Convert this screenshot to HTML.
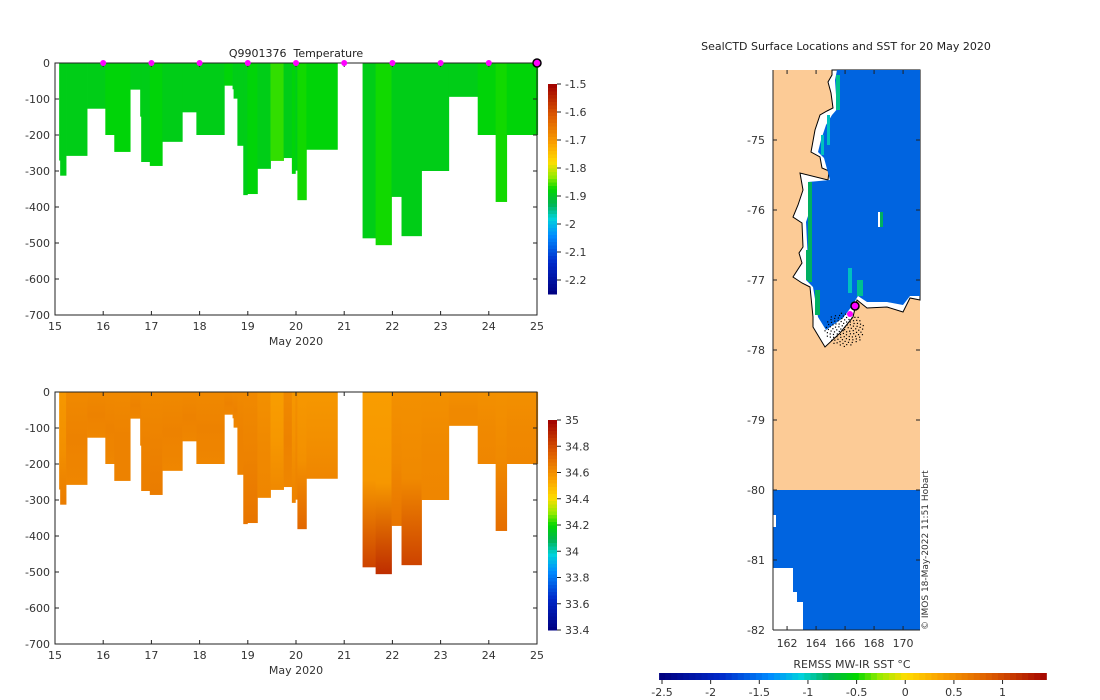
<!DOCTYPE html>
<html><head><meta charset="utf-8"><style>
body{margin:0;background:#fff;}
svg{display:block;font-family:"DejaVu Sans","Liberation Sans",sans-serif;}
</style></head><body>
<svg id="s" width="1100" height="700" viewBox="0 0 1100 700">
<text x="296" y="57" font-size="11" text-anchor="middle" fill="#222">Q9901376&#160; Temperature</text>
<text x="846" y="50" font-size="11" text-anchor="middle" fill="#222">SealCTD Surface Locations and SST for 20 May 2020</text>
<g id="topPanel"></g>
<g id="botPanel"></g>
<g id="map"></g>
</svg>
<script>
const NS="http://www.w3.org/2000/svg";
const colStart=[15.086,15.107,15.229,15.665,16.044,16.230,16.559,16.767,16.788,16.967,17.225,17.640,17.933,18.512,18.684,18.705,18.784,18.906,18.991,19.199,19.471,19.742,19.914,19.986,20.029,20.215,21.381,21.652,21.981,22.189,22.604,23.169,23.770,24.142,24.371];
const colEnd=[15.107,15.229,15.665,16.044,16.230,16.559,16.767,16.788,16.967,17.225,17.640,17.933,18.512,18.684,18.705,18.784,18.906,18.991,19.199,19.471,19.742,19.914,19.986,20.029,20.215,20.858,21.652,21.981,22.189,22.604,23.169,23.770,24.142,24.371,25.014];
const colDepth=[271,313,258,127,200,247,74,149,275,286,219,137,200,63,73,99,230,367,364,294,272,264,308,299,381,241,487,506,372,481,300,94,200,386,200];
const colTemp=[-1.89,-1.89,-1.89,-1.89,-1.88,-1.88,-1.89,-1.89,-1.89,-1.88,-1.89,-1.89,-1.89,-1.88,-1.89,-1.89,-1.89,-1.89,-1.88,-1.89,-1.86,-1.89,-1.88,-1.89,-1.87,-1.88,-1.89,-1.87,-1.89,-1.89,-1.89,-1.89,-1.88,-1.87,-1.88];
const colSalTop=[34.58,34.58,34.62,34.62,34.62,34.62,34.62,34.62,34.62,34.62,34.62,34.62,34.62,34.62,34.62,34.62,34.62,34.62,34.62,34.60,34.56,34.62,34.58,34.60,34.58,34.58,34.56,34.56,34.60,34.60,34.60,34.60,34.60,34.60,34.60];
const colSalBot=[34.64,34.66,34.63,34.63,34.63,34.64,34.63,34.63,34.65,34.66,34.63,34.63,34.63,34.63,34.63,34.63,34.64,34.68,34.68,34.63,34.62,34.63,34.64,34.64,34.72,34.63,34.82,34.88,34.68,34.82,34.63,34.62,34.63,34.70,34.63];
const markerDays=[16,17,18,19,20,21,22,23,24];
const xTicks=[15,16,17,18,19,20,21,22,23,24,25];
const yTicks=[0,-100,-200,-300,-400,-500,-600,-700];
const tempTicks=[-1.5,-1.6,-1.7,-1.8,-1.9,-2,-2.1,-2.2];
const salTicks=[35,34.8,34.6,34.4,34.2,34,33.8,33.6,33.4];
const sstTicks=[-2.5,-2,-1.5,-1,-0.5,0,0.5,1];
const latTicks=[-75,-76,-77,-78,-79,-80,-81,-82];
const lonTicks=[162,164,166,168,170];

const stops=[[0,[0,0,128]],[0.15,[0,40,200]],[0.28,[0,140,255]],[0.36,[0,210,220]],[0.43,[0,180,80]],[0.5,[0,215,0]],[0.56,[150,235,0]],[0.63,[255,220,0]],[0.72,[250,160,0]],[0.85,[220,90,0]],[1,[160,0,0]]];
function cmap(f){f=Math.max(0,Math.min(1,f));for(let i=1;i<stops.length;i++){if(f<=stops[i][0]){const a=stops[i-1],b=stops[i],t=(f-a[0])/(b[0]-a[0]);return `rgb(${a[1].map((v,k)=>Math.round(v+(b[1][k]-v)*t)).join(',')})`;}}return 'rgb(160,0,0)';}
function el(p,tag,at){const e=document.createElementNS(NS,tag);for(const k in at)e.setAttribute(k,at[k]);p.appendChild(e);return e;}
function txt(p,x,y,s,anchor,size){const t=el(p,'text',{x:x,y:y,'font-size':size||11,'text-anchor':anchor||'start',fill:'#333'});t.textContent=s;return t;}

function panel(g,topY,vals,vmin,vmax,ticks,isSal){
  const X0=55,X1=537,Y0=topY,Y1=topY+252;
  const xs=d=>X0+(d-15)*(X1-X0)/10;
  const ys=m=>Y0+m*(Y1-Y0)/700;
  const defs=el(g,'defs',{});
  for(let i=0;i<colStart.length;i++){
    let fill;
    if(isSal){
      const id='sg'+i;const lg=el(defs,'linearGradient',{id:id,x1:0,y1:0,x2:0,y2:1});
      el(lg,'stop',{offset:'0','stop-color':cmap((colSalTop[i]-vmin)/(vmax-vmin))});
      el(lg,'stop',{offset:'0.5','stop-color':cmap((colSalTop[i]+0.02-vmin)/(vmax-vmin))});
      el(lg,'stop',{offset:'1','stop-color':cmap((colSalBot[i]-vmin)/(vmax-vmin))});
      fill='url(#'+id+')';
    } else fill=cmap((vals[i]-vmin)/(vmax-vmin));
    const r=el(g,'rect',{x:xs(colStart[i]),y:Y0,width:xs(colEnd[i])-xs(colStart[i])+0.4,height:ys(colDepth[i])-Y0,fill:fill});
    
    
  }
  el(g,'rect',{x:X0,y:Y0,width:X1-X0,height:Y1-Y0,fill:'none',stroke:'#222','stroke-width':1});
  xTicks.forEach(d=>{const x=xs(d);el(g,'line',{x1:x,x2:x,y1:Y1,y2:Y1-4,stroke:'#222'});el(g,'line',{x1:x,x2:x,y1:Y0,y2:Y0+4,stroke:'#222'});txt(g,x,Y1+15,String(d),'middle');});
  yTicks.forEach(v=>{const y=ys(-v);el(g,'line',{x1:X0,x2:X0+4,y1:y,y2:y,stroke:'#222'});el(g,'line',{x1:X1,x2:X1-4,y1:y,y2:y,stroke:'#222'});txt(g,X0-5,y+4,String(v),'end');});
  const xl=txt(g,296,Y1+30,'May 2020','middle');
  
  const cb=el(g,'g',{});
  
  
  const cT=isSal?topY+28:topY+21, cB=isSal?topY+238:topY+231;
  const cbMin=isSal?33.4:-2.25, cbMax=isSal?35:-1.5;
  const N=60;for(let k=0;k<N;k++){const v=cbMin+(cbMax-cbMin)*(k+0.5)/N;el(cb,'rect',{x:548,y:cB-(k+1)*(cB-cT)/N,width:9,height:(cB-cT)/N+0.5,fill:cmap((v-vmin)/(vmax-vmin))});}
  ticks.forEach(v=>{const y=cB-(v-cbMin)/(cbMax-cbMin)*(cB-cT);el(cb,'line',{x1:557,x2:561,y1:y,y2:y,stroke:'#222'});txt(cb,565,y+4,String(v),'start');});
}
const topG=document.getElementById('topPanel'),botG=document.getElementById('botPanel');
panel(topG,63,colTemp,-2.25,-1.5,tempTicks,false);
panel(botG,392,colSalTop,33.4,35,salTicks,true);
markerDays.forEach(d=>{const c=el(topG,'circle',{cx:55+(d-15)*48.2,cy:63,r:3,fill:'#ff00ff'});});
{const c=el(topG,'circle',{cx:537,cy:63,r:4,fill:'#ff00ff',stroke:'#000','stroke-width':1.5});}

// map
const m=document.getElementById('map');
const MX0=773,MX1=920,MY0=70,MY1=630;
const lonX=l=>MX0+(l-161.03)*14.5, latY=a=>MY0+(-74-a)*70;
el(m,'rect',{x:MX0,y:MY0,width:MX1-MX0,height:MY1-MY0,fill:'#fccb96'});
const coast="832,70 832,75 828,82 831,93 833,108 827,111 820,115 815,130 811,152 820,157 822,168 829,171 828,180 800,173 803,190 798,205 793,217 802,223 803,247 799,253 802,263 793,277 802,283 810,287 813,317 813,327 825,347 840,333 853,317 857,300 867,308 887,307 903,312 910,298 920,300 920,70";
el(m,'polygon',{points:coast,fill:'#fff',stroke:'#000','stroke-width':1});
el(m,'polygon',{points:"837,70 835,80 836,95 838,108 832,115 826,125 821,140 818,152 824,158 830,180 808,182 810,210 806,222 808,262 806,280 813,287 818,317 826,330 843,318 852,306 858,296 867,302 887,302 903,305 910,296 920,296 920,70",fill:'#0064e0'});
[[808,182,4,100,'#00b060'],[806,250,4,30,'#00b060'],[815,290,5,25,'#00b060'],[836,75,4,35,'#00c090'],[827,115,3,30,'#00c0c0'],[821,135,3,20,'#00c0c0'],[848,268,4,25,'#00c0c0'],[857,280,6,16,'#00c090'],[880,212,3,15,'#00b060'],[878,212,2,15,'#fff']].forEach(r=>el(m,'rect',{x:r[0],y:r[1],width:r[2],height:r[3],fill:r[4]}));
el(m,'rect',{x:MX0,y:490,width:MX1-MX0,height:140,fill:'#0064e0'});
el(m,'polygon',{points:"773,568 793,568 793,592 797,592 797,602 803,602 803,630 773,630",fill:'#fff'});
el(m,'rect',{x:773,y:515,width:3,height:12,fill:'#fff'});
const dots=el(m,'g',{});
for(let i=0;i<110;i++){const a=i*2.39996,r=Math.sqrt(i/110);el(dots,'rect',{x:844+Math.cos(a)*r*20,y:329+Math.sin(a)*r*17,width:1.2,height:1.2,fill:'#000'});}
el(m,'circle',{cx:850,cy:314,r:3,fill:'#ff00ff'});
el(m,'circle',{cx:855,cy:306,r:4,fill:'#ff00ff',stroke:'#000','stroke-width':1.5});
el(m,'line',{x1:MX0,x2:MX0,y1:MY0,y2:MY1,stroke:'#222'});
el(m,'line',{x1:MX0,x2:MX1,y1:MY1,y2:MY1,stroke:'#222'});
latTicks.forEach(a=>{const y=latY(a);el(m,'line',{x1:MX0,x2:MX0+4,y1:y,y2:y,stroke:'#222'});el(m,'line',{x1:MX1,x2:MX1-4,y1:y,y2:y,stroke:'#222'});txt(m,MX0-8,y+4,String(a),'end');});
lonTicks.forEach(l=>{const x=lonX(l);el(m,'line',{x1:x,x2:x,y1:MY1,y2:MY1-4,stroke:'#222'});el(m,'line',{x1:x,x2:x,y1:MY0,y2:MY0+4,stroke:'#222'});txt(m,x,MY1+17,String(l),'middle');});
{const t=txt(m,0,0,'© IMOS 18-May-2022 11:51 Hobart','start',9);t.setAttribute('transform','translate(928,630) rotate(-90)');}
{const t=txt(m,852,668,'REMSS MW-IR SST °C','middle',11);}
const sb=el(m,'g',{});
const sx=v=>662+(v+2.5)*97.3;
const SN=64;for(let k=0;k<SN;k++){const v0=-2.53+k*(1.45+2.53)/SN;el(sb,'rect',{x:sx(v0),y:673,width:(1.45+2.53)/SN*97.3+0.5,height:7,fill:cmap((v0+2.53)/(3.98))});}
sstTicks.forEach(v=>{const x=sx(v);el(sb,'line',{x1:x,x2:x,y1:680,y2:684,stroke:'#222'});txt(sb,x,696,String(v),'middle');});
</script>
</body></html>
